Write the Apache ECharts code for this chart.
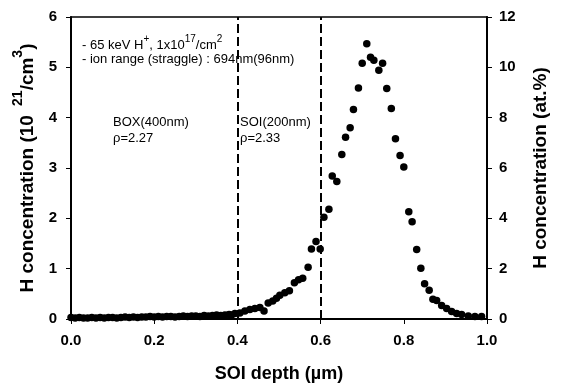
<!DOCTYPE html>
<html>
<head>
<meta charset="utf-8">
<script src="https://cdn.jsdelivr.net/npm/echarts@6/dist/echarts.min.js"></script>
<style>
  html, body { margin: 0; padding: 0; background: #fff; }
  #chart { width: 561px; height: 392px; }
</style>
</head>
<body>
<div id="chart"></div>
<script>
// depth (um) and H concentration (1e21/cm3)
const depth = [
  0.00, 0.01, 0.02, 0.03, 0.04, 0.05, 0.06, 0.07, 0.08, 0.09,
  0.10, 0.11, 0.12, 0.13, 0.14, 0.15, 0.16, 0.17, 0.18, 0.19,
  0.20, 0.21, 0.22, 0.23, 0.24, 0.25, 0.26, 0.27, 0.28, 0.29,
  0.30, 0.31, 0.32, 0.33, 0.34, 0.35, 0.36, 0.37, 0.38,
  0.386, 0.394, 0.406, 0.418, 0.430, 0.442, 0.454, 0.464, 0.474, 0.485,
  0.494, 0.502, 0.514, 0.525, 0.537, 0.547, 0.557, 0.570, 0.578, 0.589,
  0.599, 0.608, 0.620, 0.628, 0.639, 0.651, 0.660, 0.671, 0.679, 0.691,
  0.700, 0.711, 0.720, 0.728, 0.740, 0.749, 0.759, 0.770, 0.780, 0.791,
  0.800, 0.812, 0.820, 0.831, 0.841, 0.850, 0.861, 0.870, 0.879, 0.891,
  0.903, 0.915, 0.927, 0.939, 0.955, 0.971, 0.987
];
const conc = [
  0.03, 0.02, 0.03, 0.02, 0.02, 0.03, 0.02, 0.03, 0.02, 0.03,
  0.03, 0.02, 0.03, 0.04, 0.03, 0.04, 0.03, 0.04, 0.04, 0.05,
  0.04, 0.05, 0.04, 0.05, 0.05, 0.04, 0.05, 0.06, 0.05, 0.06,
  0.06, 0.05, 0.07, 0.06, 0.07, 0.08, 0.07, 0.08, 0.09,
  0.08, 0.11, 0.12, 0.16, 0.19, 0.21, 0.23, 0.16, 0.32, 0.36,
  0.41, 0.47, 0.52, 0.56, 0.72, 0.78, 0.81, 1.03, 1.39, 1.54,
  1.39, 2.02, 2.18, 2.84, 2.73, 3.27, 3.61, 3.80, 4.16, 4.59,
  5.08, 5.47, 5.20, 5.14, 4.94, 5.08, 4.58, 4.18, 3.58, 3.25,
  3.02, 2.13, 1.93, 1.38, 1.01, 0.70, 0.57, 0.39, 0.37, 0.27,
  0.21, 0.15, 0.11, 0.09, 0.06, 0.05, 0.05
];
const layerEdges = [0.4, 0.6];

const chart = echarts.init(document.getElementById('chart'));

const font = 'Liberation Sans';
const tickLabel = { color: '#000', fontFamily: font, fontWeight: 'bold', fontSize: 15 };
const nameStyle = { color: '#000', fontFamily: font, fontWeight: 'bold', fontSize: 18 };

const option = {
  animation: false,
  grid: {
    left: 71, right: 74, top: 17, bottom: 73,
    show: true, borderColor: '#000', borderWidth: 1.5
  },
  xAxis: {
    type: 'value',
    min: 0, max: 1, interval: 0.2,
    name: 'SOI depth (\u00b5m)',
    nameLocation: 'middle',
    nameGap: 46,
    nameTextStyle: nameStyle,
    axisLine: { lineStyle: { color: '#000', width: 2 } },
    axisTick: { length: 5, lineStyle: { color: '#000' } },
    axisLabel: { ...tickLabel, margin: 14, formatter: v => v.toFixed(1) },
    splitLine: { show: false }
  },
  yAxis: [
    {
      type: 'value',
      min: 0, max: 6, interval: 1,
      name: '{a|H concentration (10 }{s| 21}{a|/cm}{s|3}{a|)}',
      nameLocation: 'middle',
      nameRotate: 90,
      nameGap: 34,
      nameTextStyle: {
        ...nameStyle,
        rich: {
          a: { ...nameStyle, fontSize: 19, lineHeight: 26, verticalAlign: 'bottom' },
          s: { ...nameStyle, fontSize: 14, lineHeight: 26, verticalAlign: 'top', padding: [0, 0, 10, 0] }
        }
      },
      axisLine: { show: true, lineStyle: { color: '#000', width: 2 } },
      axisTick: { show: true, length: 5, lineStyle: { color: '#000' } },
      axisLabel: { ...tickLabel, margin: 14 },
      splitLine: { show: false }
    },
    {
      type: 'value',
      position: 'right',
      min: 0, max: 12, interval: 2,
      name: 'H concentration (at.%)',
      nameLocation: 'middle',
      nameRotate: 90,
      nameGap: 44,
      nameTextStyle: { ...nameStyle, fontSize: 19 },
      axisLine: { show: true, lineStyle: { color: '#000', width: 2 } },
      axisTick: { show: true, length: 5, lineStyle: { color: '#000' } },
      axisLabel: { ...tickLabel, margin: 12 },
      splitLine: { show: false }
    }
  ],
  series: [
    {
      type: 'scatter',
      yAxisIndex: 0,
      data: depth.map((d, i) => [d, conc[i]]),
      symbol: 'circle',
      symbolSize: 7.5,
      itemStyle: { color: '#000', opacity: 1 },
      markLine: {
        silent: true,
        symbol: 'none',
        label: { show: false },
        lineStyle: { color: '#000', width: 2, type: [9, 4] },
        data: layerEdges.map(x => ({ xAxis: x }))
      }
    }
  ],
  graphic: [
    {
      type: 'text', left: 82, top: 34,
      style: {
        text: '{t|- 65 keV H}{u|+}{t|, 1x10}{u|17}{t|/cm}{u|2}',
        rich: {
          t: { fontFamily: font, fontSize: 13, fill: '#000', lineHeight: 18, verticalAlign: 'bottom' },
          u: { fontFamily: font, fontSize: 10, fill: '#000', lineHeight: 18, verticalAlign: 'top' }
        }
      }
    },
    {
      type: 'text', left: 82, top: 53,
      style: { text: '- ion range (straggle) : 694nm(96nm)', font: '13px ' + font, fill: '#000' }
    },
    {
      type: 'text', left: 113, top: 114,
      style: { text: 'BOX(400nm)\n\u03c1=2.27', font: '13px ' + font, fill: '#000', lineHeight: 16 }
    },
    {
      type: 'text', left: 240, top: 114,
      style: { text: 'SOI(200nm)\n\u03c1=2.33', font: '13px ' + font, fill: '#000', lineHeight: 16 }
    }
  ]
};

chart.setOption(option);
</script>
</body>
</html>
